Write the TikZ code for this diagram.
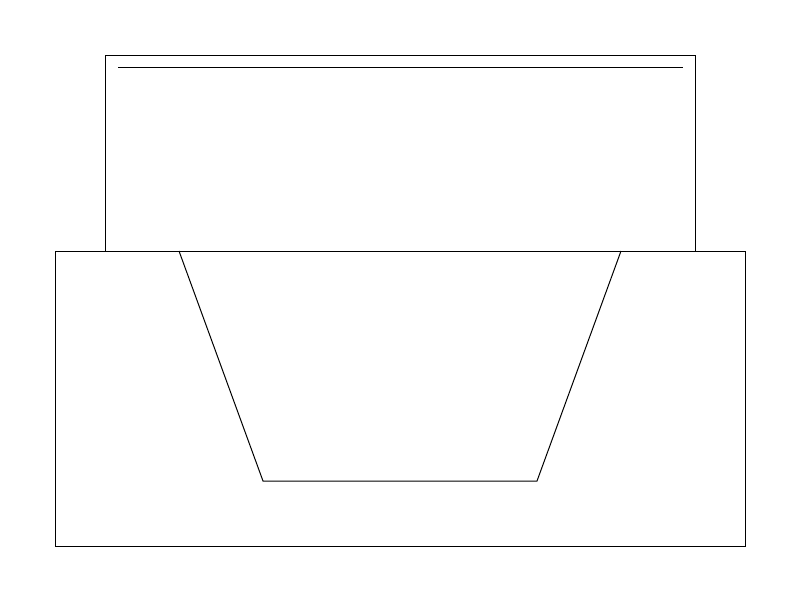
\documentclass[tikz,border=0pt]{standalone}
\tikzset{every picture/.style={line width=0.75pt}}
\begin{document}
\begin{tikzpicture}[x=0.75pt,y=0.75pt,yscale=-1,xscale=1]
%set diagram left start at 0, and has height of 601
\useasboundingbox (0,0) rectangle (800,601);

%Shape: Rectangle [id:upper] 
\draw   (105,251) -- (105,55) -- (695,55) -- (695,251) ;
%Straight Lines [id:upperline] 
\draw    (118,67) -- (683,67) ;
%Shape: Rectangle [id:lower] 
\draw   (55,251) -- (745,251) -- (745,546) -- (55,546) -- cycle ;
%Shape: Trapezoid [id:trough] 
\draw   (179,251) -- (263,481) -- (537,481) -- (621,251) ;

\end{tikzpicture}
\end{document}
